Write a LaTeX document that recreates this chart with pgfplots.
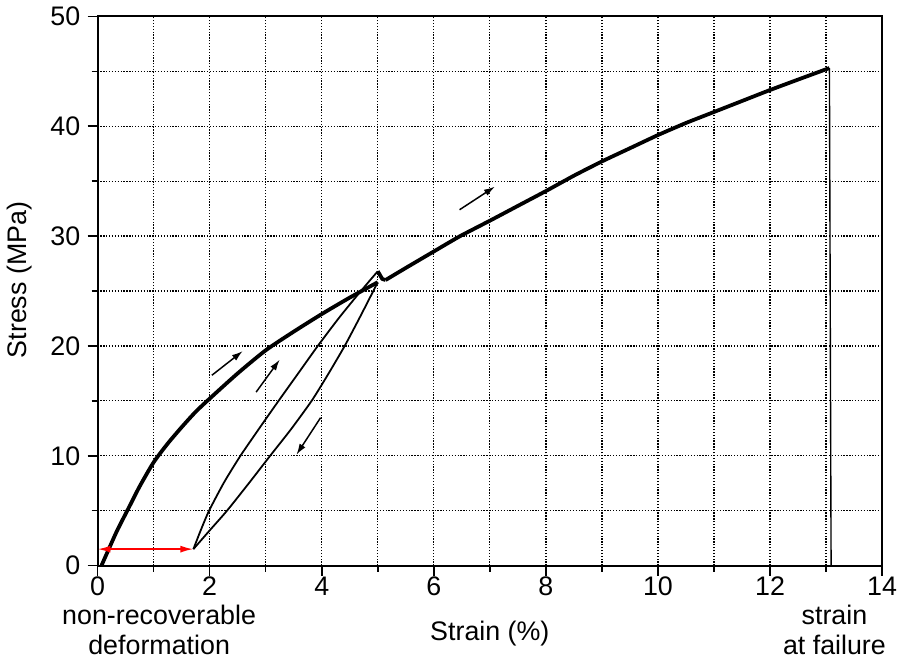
\documentclass[border=0pt]{standalone}
\usepackage{fontspec}
\setmainfont{Liberation Sans}
\usepackage{pgfplots}
\pgfplotsset{compat=1.18}
\usetikzlibrary{arrows.meta}

\begin{document}
\begin{tikzpicture}
\begin{axis}[
    scale only axis, width=395pt, height=276.5pt,
    xmin=0, xmax=14, ymin=0, ymax=50,
    xtick={0,2,...,14}, ytick={0,10,...,50},
    minor x tick num=1, minor y tick num=1,
    xtick pos=bottom, ytick pos=left, tick align=outside,
    major tick length=5pt, minor tick length=3pt,
    every tick/.style={black, line width=0.8pt},
    axis line style={line width=1pt},
    grid=both,
    major grid style={black, line width=0.65pt, dash pattern=on 0.65pt off 0.8pt},
    minor grid style={black, line width=0.65pt, dash pattern=on 0.65pt off 0.8pt},
    /pgf/number format/assume math mode=true,
    tick label style={font=\fontsize{13.5}{15}\selectfont},
    xticklabel style={inner sep=0.5pt},
    yticklabel style={inner sep=3.5pt},
    label style={font=\fontsize{13.5}{15}\selectfont},
    xlabel={Strain (\%)},
    xlabel style={at={(axis description cs:0.5,0)}, anchor=center, yshift=-34pt},
    ylabel={Stress (MPa)},
    ylabel style={at={(axis description cs:0,0.52)}, anchor=center, yshift=39.5pt},
    clip=false,
]
% first loading up to 5 %
\addplot[black, line width=1.9pt, line join=round, smooth, tension=0.4] coordinates {
    (0.07,0) (0.2,1.5) (0.35,3.2) (0.54,5.1) (0.75,7.2) (1.0,9.4)
    (1.25,11.1) (1.5,12.6) (1.75,14.0) (2.0,15.2) (2.5,17.5) (3.0,19.6)
    (3.5,21.3) (4.0,22.9) (4.5,24.4) (5.0,25.8)};
% unloading
\addplot[black, line width=0.9pt, line join=round, smooth, tension=0.4] coordinates {
    (5.0,25.8) (4.7,22.8) (4.41,20) (4.1,17.3) (3.82,15) (3.45,12.4)
    (3.08,10) (2.7,7.5) (2.31,5) (2.0,3.2) (1.71,1.5)};
% reloading
\addplot[black, line width=0.9pt, line join=round, smooth, tension=0.4] coordinates {
    (1.71,1.5) (1.84,3.2) (1.99,5) (2.26,7.6) (2.55,10) (2.9,12.6)
    (3.23,15) (3.58,17.5) (3.93,20) (4.3,22.5) (4.65,24.7) (5.0,26.8)};
% small drop after reloading
\addplot[black, line width=1.9pt, line join=round] coordinates {
    (5.0,26.8) (5.08,26.1) (5.14,26.0)};
% loading up to failure
\addplot[black, line width=1.9pt, line join=round, smooth, tension=0.3] coordinates {
    (5.14,26.0) (5.5,27.1) (6.0,28.6) (6.47,30) (7.0,31.4) (7.5,32.75)
    (8.0,34.1) (8.5,35.5) (9.0,36.8) (9.5,38.0) (10.0,39.2) (10.5,40.3)
    (11.0,41.3) (11.5,42.3) (12.0,43.3) (12.5,44.25) (13.06,45.3)};
\addplot[black, line width=0.7pt] coordinates {(13.06,45.3) (13.09,0)};
% direction arrows
\addplot[black, line width=0.75pt, -{Latex[length=5.5pt,width=3.5pt]}]
    coordinates {(2.04,17.33) (2.59,19.53)};
\addplot[black, line width=0.75pt, -{Latex[length=5.5pt,width=3.5pt]}]
    coordinates {(2.83,15.8) (3.25,18.75)};
\addplot[black, line width=0.75pt, -{Latex[length=5.5pt,width=3.5pt]}]
    coordinates {(3.98,13.47) (3.55,10.1)};
\addplot[black, line width=0.75pt, -{Latex[length=5.5pt,width=3.5pt]}]
    coordinates {(6.46,32.4) (7.09,34.5)};
% non-recoverable deformation
\addplot[red, line width=0.9pt, {Latex[length=6.5pt,width=3.5pt]}-{Latex[length=6.5pt,width=3.5pt]}]
    coordinates {(0,1.5) (1.71,1.5)};
\node[align=center, font=\fontsize{13.5}{15}\selectfont, anchor=center]
    at (rel axis cs:0,0) [xshift=31pt, yshift=-32.5pt] {non-recoverable\\deformation};
\node[align=center, font=\fontsize{13.5}{15}\selectfont, anchor=center]
    at (rel axis cs:1,0) [xshift=-24pt, yshift=-32.5pt] {strain\\at failure};
\end{axis}
\end{tikzpicture}
\end{document}
